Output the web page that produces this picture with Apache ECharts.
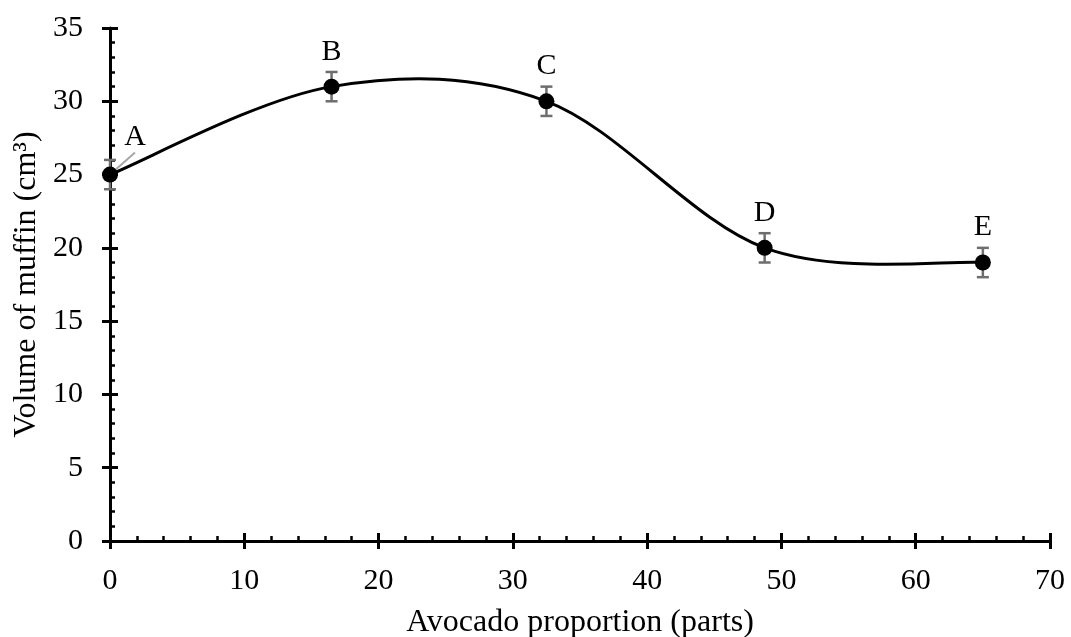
<!DOCTYPE html>
<html>
<head>
<meta charset="utf-8">
<script src="https://cdn.jsdelivr.net/npm/echarts@6/dist/echarts.min.js"></script>
<style>
  html, body { margin: 0; padding: 0; background: #fff; }
  #chart { width: 1071px; height: 637px; }
</style>
</head>
<body>
<div id="chart"></div>
<script>
// Avocado proportion (parts) and measured muffin volume (cm³)
const proportions = [0, 16.5, 32.5, 48.75, 65];
const volumes = [25, 31, 30, 20, 19];
const errors = [1, 1, 1, 1, 1];
const pointLabels = ['A', 'B', 'C', 'D', 'E'];

const FONT = '"Liberation Serif", "Times New Roman", serif';
const ERR_COLOR = '#6e6e6e';

const chart = echarts.init(document.getElementById('chart'), null, { renderer: 'canvas' });

const points = proportions.map((x, i) => [x, volumes[i]]);
const errData = proportions.map((x, i) => [x, volumes[i] - errors[i], volumes[i] + errors[i]]);

const grid = { left: 110, right: 21, top: 28, bottom: 96, containLabel: false, outerBoundsMode: 'none' };

const baseX = {
  type: 'value', min: 0, max: 70, interval: 10,
  position: 'bottom',
  splitLine: { show: false }
};
const baseY = {
  type: 'value', min: 0, max: 35, interval: 5,
  position: 'left',
  splitLine: { show: false }
};

// Smoothed curve: cubic Bézier segments with Catmull-Rom tangents (1/6 factor),
// computed in pixel space from the data points via the coordinate system.
function renderCurve(params, api) {
  const i = params.dataIndex;
  const n = points.length;
  if (i >= n - 1) return null;
  const p0 = api.coord(points[Math.max(i - 1, 0)]);
  const p1 = api.coord(points[i]);
  const p2 = api.coord(points[i + 1]);
  const p3 = api.coord(points[Math.min(i + 2, n - 1)]);
  return {
    type: 'bezierCurve',
    shape: {
      x1: p1[0], y1: p1[1],
      x2: p2[0], y2: p2[1],
      cpx1: p1[0] + (p2[0] - p0[0]) / 6,
      cpy1: p1[1] + (p2[1] - p0[1]) / 6,
      cpx2: p2[0] - (p3[0] - p1[0]) / 6,
      cpy2: p2[1] - (p3[1] - p1[1]) / 6
    },
    style: { stroke: '#000', lineWidth: 3, fill: null, lineCap: 'round' }
  };
}

chart.setOption({
  animation: false,
  backgroundColor: '#ffffff',
  grid: grid,
  xAxis: [
    Object.assign({}, baseX, {
      name: 'Avocado proportion (parts)',
      nameLocation: 'middle',
      nameGap: 66,
      nameTextStyle: { fontFamily: FONT, fontSize: 32, color: '#000' },
      axisLine: { show: true, onZero: false, lineStyle: { color: '#000', width: 3 } },
      axisTick: { show: true, inside: false, length: 8, lineStyle: { color: '#000', width: 3 } },
      axisLabel: { fontFamily: FONT, fontSize: 30, color: '#000', margin: 25 }
    }),
    Object.assign({}, baseX, {
      axisLine: { show: false, onZero: false },
      axisTick: { show: true, inside: true, length: 8, lineStyle: { color: '#000', width: 3 } },
      minorTick: { show: true, splitNumber: 5, length: 5, lineStyle: { color: '#000', width: 2.5 } },
      axisLabel: { show: false }
    })
  ],
  yAxis: [
    Object.assign({}, baseY, {
      name: 'Volume of muffin (cm³)',
      nameLocation: 'middle',
      nameGap: 66,
      nameTextStyle: { fontFamily: FONT, fontSize: 32, color: '#000' },
      axisLine: { show: true, onZero: false, lineStyle: { color: '#000', width: 3 } },
      axisTick: { show: true, inside: false, length: 8, lineStyle: { color: '#000', width: 3 } },
      axisLabel: { fontFamily: FONT, fontSize: 30, color: '#000', margin: 27 }
    }),
    Object.assign({}, baseY, {
      axisLine: { show: false, onZero: false },
      axisTick: { show: true, inside: true, length: 8, lineStyle: { color: '#000', width: 3 } },
      minorTick: { show: true, splitNumber: 5, length: 5, lineStyle: { color: '#000', width: 2.5 } },
      axisLabel: { show: false }
    })
  ],
  series: [
    {
      type: 'custom',
      data: points,
      renderItem: renderCurve,
      z: 2
    },
    {
      // error bars: vertical whisker with caps
      type: 'custom',
      data: errData,
      z: 3,
      renderItem: function (params, api) {
        const x = api.value(0);
        const lo = api.coord([x, api.value(1)]);
        const hi = api.coord([x, api.value(2)]);
        const half = 6;
        const style = { stroke: ERR_COLOR, lineWidth: 2.5 };
        return {
          type: 'group',
          children: [
            { type: 'line', shape: { x1: lo[0], y1: lo[1], x2: hi[0], y2: hi[1] }, style: style },
            { type: 'line', shape: { x1: lo[0] - half, y1: lo[1], x2: lo[0] + half, y2: lo[1] }, style: style },
            { type: 'line', shape: { x1: hi[0] - half, y1: hi[1], x2: hi[0] + half, y2: hi[1] }, style: style }
          ]
        };
      }
    },
    {
      // measured points with letter labels
      type: 'scatter',
      data: points.map((p, i) => ({
        value: p,
        name: pointLabels[i],
        labelLine: i === 0 ? { show: true, lineStyle: { color: '#a6a6a6', width: 2 } } : { show: false }
      })),
      symbol: 'circle',
      symbolSize: 16,
      itemStyle: { color: '#000', opacity: 1 },
      z: 4,
      label: {
        show: true,
        position: 'top',
        distance: 12,
        formatter: function (p) { return p.name; },
        fontFamily: FONT,
        fontSize: 30,
        color: '#000'
      },
      labelLayout: function (params) {
        if (params.dataIndex === 0) {
          return { dx: 25, dy: -2 };
        }
        return {};
      }
    }
  ]
});
</script>
</body>
</html>
